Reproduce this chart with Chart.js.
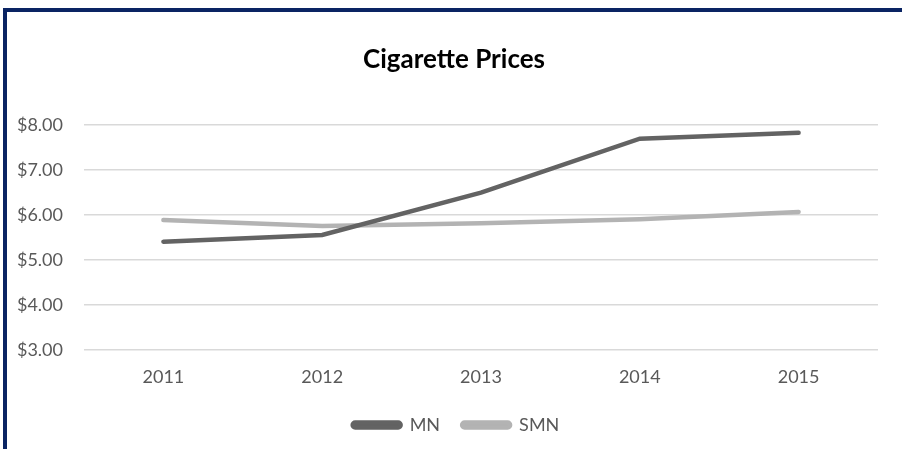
<!DOCTYPE html>
<html>
<head>
<meta charset="utf-8">
<script src="https://cdn.jsdelivr.net/npm/chart.js@4/dist/chart.umd.min.js"></script>
<style>
    html, body { margin: 0; padding: 0; background: #fff; overflow: hidden; }
    #frame {
        position: absolute; left: 3px; top: 8px; width: 1000px; height: 1000px;
        border-left: 4px solid #0a2463; border-top: 4px solid #0a2463;
    }
    #price-chart { position: absolute; left: 0; top: 0; }
</style>
</head>
<body>
<div id="frame"></div>
<canvas id="price-chart" width="902" height="449"></canvas>
<script>
const years = ["2011", "2012", "2013", "2014", "2015"];
const mnPrices = [5.41, 5.56, 6.50, 7.70, 7.83];
const smnPrices = [5.89, 5.76, 5.82, 5.91, 6.07];
const priceTicks = [3, 4, 5, 6, 7, 8];

Chart.defaults.font.family = "Lato, 'Open Sans', sans-serif";
Chart.defaults.color = "#595959";

// nudge title and legend a bit right of the plot centre
const shiftBlocks = {
    id: "shiftBlocks",
    afterLayout(chart) {
        chart.titleBlock.left += 22;
        chart.legend.left += 26;
    }
};

const ctx = document.getElementById("price-chart").getContext("2d");

new Chart(ctx, {
    type: "line",
    data: {
        labels: years,
        datasets: [{
            label: "MN",
            data: mnPrices,
            borderColor: "#636363",
            backgroundColor: "#636363",
            borderWidth: 4.5,
            borderCapStyle: "round",
            pointRadius: 0,
        }, {
            label: "SMN",
            data: smnPrices,
            borderColor: "#b3b3b3",
            backgroundColor: "#b3b3b3",
            borderWidth: 4.5,
            borderCapStyle: "round",
            pointRadius: 0,
        }]
    },
    plugins: [shiftBlocks],
    options: {
        responsive: false,
        devicePixelRatio: 1,
        animation: false,
        layout: { padding: { left: 8, right: 24, top: 0, bottom: 5 } },
        plugins: {
            title: {
                display: true,
                text: "Cigarette Prices",
                color: "#000",
                font: { size: 26, weight: "bold" },
                padding: { top: 44, bottom: 50 },
            },
            legend: {
                position: "bottom",
                maxHeight: 56,
                labels: {
                    boxWidth: 48,
                    boxHeight: 5,
                    useBorderRadius: true,
                    borderRadius: 2.5,
                    font: { size: 18 },
                    padding: 22,
                },
            },
            tooltip: { enabled: false },
        },
        scales: {
            x: {
                offset: true,
                grid: { display: false },
                border: { display: false },
                ticks: { font: { size: 18 }, padding: 8 },
                afterFit: (scale) => { scale.height = 44; },
            },
            y: {
                min: priceTicks[0],
                max: priceTicks[priceTicks.length - 1],
                afterBuildTicks: (scale) => { scale.ticks = priceTicks.map(v => ({ value: v })); },
                grid: { color: "#d9d9d9", lineWidth: 1.5, drawTicks: false },
                border: { display: false },
                ticks: {
                    font: { size: 18 },
                    padding: 21,
                    callback: (v) => "$" + Number(v).toFixed(2),
                },
                afterFit: (scale) => { scale.width = 76; },
            }
        }
    }
});
</script>
</body>
</html>
